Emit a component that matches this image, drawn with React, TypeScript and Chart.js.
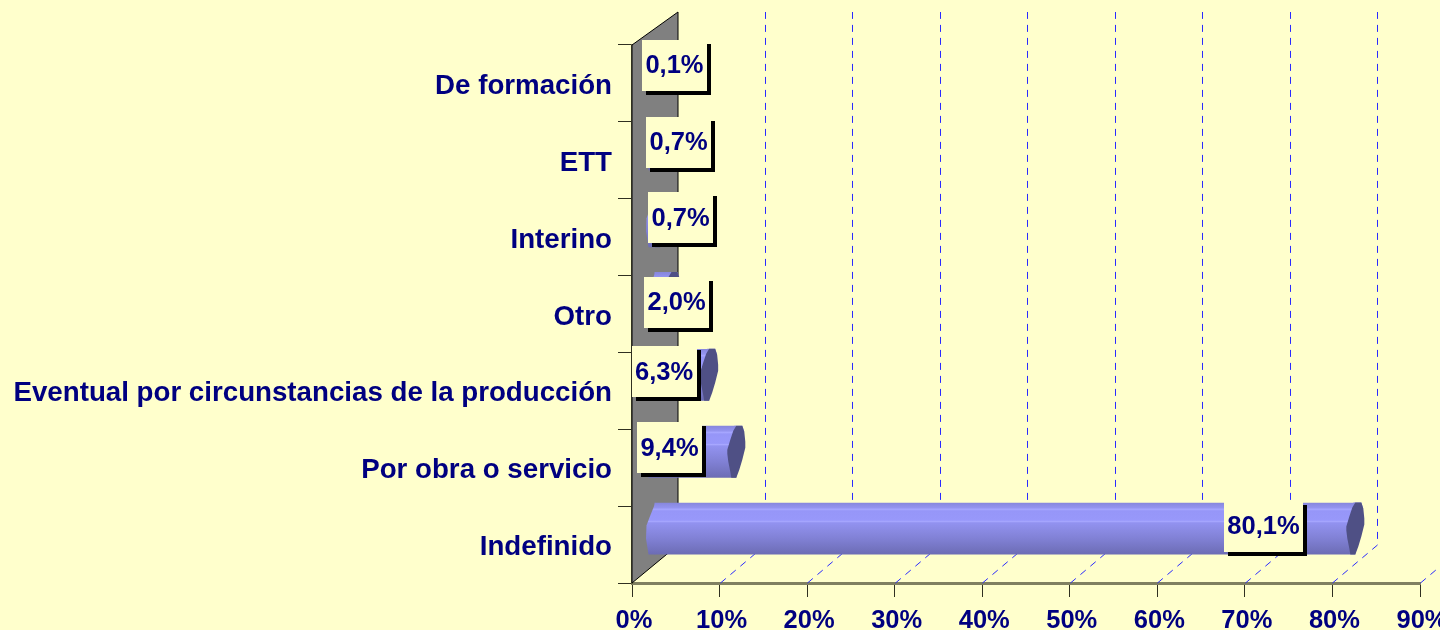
import React, { useEffect, useRef } from "react";
import { Chart, registerables } from "chart.js";

Chart.register(...registerables);

const categories = [
  "De formación",
  "ETT",
  "Interino",
  "Otro",
  "Eventual por circunstancias de la producción",
  "Por obra o servicio",
  "Indefinido",
];
const shares = [0.1, 0.7, 0.7, 2.0, 6.3, 9.4, 80.1];
const shareLabels = ["0,1%", "0,7%", "0,7%", "2,0%", "6,3%", "9,4%", "80,1%"];
const labelShiftX = [19.6, 18.4, 20.4, 5, -45, -66.8, -91.8];
const labelShiftY = [-2, -2, -3.5, 4, -3, -4, -2.5];

const BG = "#FFFFCC";
const NAVY = "#000080";
const FONT = "'Liberation Sans', Arial, sans-serif";
const DEPTH_X = 46;
const DEPTH_Y = 38;
const BAR_X = 22;
const BAR_Y = -16;

const bandStops: [number, string][] = [
  [0, "#8686dc"],
  [0.1, "#9494f0"],
  [0.13, "#a6a6ff"],
  [0.16, "#9696f8"],
  [0.34, "#9898fa"],
  [0.36, "#a8a8ff"],
  [0.39, "#9292f0"],
  [0.5, "#8c8ce6"],
  [0.7, "#8080d4"],
  [0.85, "#7676c4"],
  [1, "#6c6cb4"],
];

const rightCap = [
  [0, -26], [6, -26], [8, -20], [9, -10], [9, -4], [6, 8], [3, 18], [0, 26],
  [-5, 26], [-6, 20], [-8, 10], [-9, 2], [-9, -2], [-6, -12], [-3, -21],
];
const leftCap = [[1, -26], [-5, -11], [-8, -3], [-8.5, 10], [-6, 26], [1, 26]];
const topFill = [[-2, -26], [6, -26], [8, -20], [0, -20]];

function bandGradient(ctx: CanvasRenderingContext2D, cy: number, half: number) {
  const g = ctx.createLinearGradient(0, cy - half, 0, cy + half);
  bandStops.forEach(([s, c]) => g.addColorStop(s, c));
  return g;
}

function poly(ctx: CanvasRenderingContext2D, pts: number[][], x: number, y: number, fill: any) {
  ctx.beginPath();
  pts.forEach(([a, b], i) => (i ? ctx.lineTo(x + a, y + b) : ctx.moveTo(x + a, y + b)));
  ctx.closePath();
  ctx.fillStyle = fill;
  ctx.fill();
}

const scene3d = {
  id: "scene3d",
  beforeDraw(chart: any) {
    const { ctx, width, height } = chart;
    ctx.save();
    ctx.fillStyle = BG;
    ctx.fillRect(0, 0, width, height);
    ctx.restore();
  },
  beforeDatasetsDraw(chart: any) {
    const { ctx, chartArea: a, scales } = chart;
    ctx.save();
    // side wall
    ctx.beginPath();
    ctx.moveTo(a.left, a.bottom);
    ctx.lineTo(a.left, a.top);
    ctx.lineTo(a.left + DEPTH_X, a.top - DEPTH_Y + 5);
    ctx.lineTo(a.left + DEPTH_X, a.bottom - DEPTH_Y);
    ctx.closePath();
    ctx.fillStyle = "#808080";
    ctx.fill();
    ctx.strokeStyle = "#000000";
    ctx.lineWidth = 1;
    ctx.stroke();
    // floor and back grid
    ctx.strokeStyle = "#2a2aff";
    ctx.setLineDash([7, 6]);
    scales.x.ticks.forEach((t: any) => {
      if (t.value === 0) return;
      const x = Math.round(scales.x.getPixelForValue(t.value)) + 0.5;
      ctx.beginPath();
      ctx.moveTo(x, a.bottom);
      ctx.lineTo(x + DEPTH_X - 1, a.bottom - DEPTH_Y);
      ctx.lineTo(x + DEPTH_X - 1, a.top - DEPTH_Y + 5);
      ctx.stroke();
    });
    ctx.restore();
  },
  beforeDatasetDraw(chart: any) {
    const { ctx } = chart;
    ctx.save();
    ctx.translate(BAR_X, BAR_Y);
  },
  afterDatasetDraw(chart: any) {
    const { ctx } = chart;
    const meta = chart.getDatasetMeta(0);
    meta.data.forEach((el: any) => {
      const g = bandGradient(ctx, el.y, 26);
      poly(ctx, leftCap, el.base, el.y, g);
      poly(ctx, topFill, el.x, el.y, g);
      poly(ctx, rightCap, el.x, el.y, "#4f5085");
    });
    ctx.restore();
  },
  afterDatasetsDraw(chart: any) {
    const { ctx } = chart;
    const meta = chart.getDatasetMeta(0);
    ctx.save();
    ctx.font = `bold 25.5px ${FONT}`;
    ctx.textAlign = "center";
    ctx.textBaseline = "middle";
    meta.data.forEach((el: any, i: number) => {
      const cx = el.x + BAR_X + labelShiftX[i];
      const cy = el.y + BAR_Y + labelShiftY[i];
      const w = Math.round(ctx.measureText(shareLabels[i]).width + 7);
      const h = 51;
      const left = Math.round(cx - w / 2);
      const top = Math.round(cy - h / 2);
      ctx.fillStyle = "#000000";
      ctx.fillRect(left + 4, top + 4, w, h);
      ctx.fillStyle = BG;
      ctx.fillRect(left, top, w, h);
      ctx.fillStyle = NAVY;
      ctx.fillText(shareLabels[i], cx, cy + 1);
    });
    ctx.restore();
  },
};

export default function App() {
  const ref = useRef<HTMLCanvasElement>(null);
  useEffect(() => {
    if (!ref.current) return;
    const chart = new Chart(ref.current, {
      type: "bar",
      data: {
        labels: categories,
        datasets: [
          {
            data: shares,
            categoryPercentage: 0.675,
            barPercentage: 1,
            borderWidth: 0,
            backgroundColor: (c: any) => {
              const y = c.chart.scales.y;
              const cy = y ? y.getPixelForValue(c.dataIndex) : NaN;
              return Number.isFinite(cy) ? bandGradient(c.chart.ctx, cy, 26) : "#8c8ce6";
            },
          },
        ],
      },
      options: {
        indexAxis: "y",
        responsive: false,
        animation: false,
        layout: { padding: { top: 45, right: 20, left: 0, bottom: 0 } },
        plugins: { legend: { display: false }, tooltip: { enabled: false }, title: { display: false } },
        scales: {
          x: {
            min: 0,
            max: 90,
            afterFit: (s: any) => {
              s.height = 47;
              s.paddingLeft = 0;
              s.paddingRight = 0;
            },
            border: { color: "#808060", width: 3 },
            grid: { drawOnChartArea: false, tickLength: 14, color: "#303020", lineWidth: 1 },
            ticks: {
              stepSize: 10,
              maxRotation: 0,
              autoSkip: false,
              padding: 9,
              labelOffset: 2,
              color: NAVY,
              font: { family: FONT, weight: "bold", size: 25.5 },
              callback: (v: any) => `${v}%`,
            },
          },
          y: {
            afterFit: (s: any) => {
              s.width = 632;
              s.paddingTop = 0;
              s.paddingBottom = 0;
            },
            border: { color: "#606040", width: 2 },
            grid: { drawOnChartArea: false, tickLength: 14, color: "#303020", lineWidth: 1 },
            ticks: {
              padding: 6,
              labelOffset: 3,
              autoSkip: false,
              color: NAVY,
              font: { family: FONT, weight: "bold", size: 27.7 },
            },
          },
        },
      },
      plugins: [scene3d],
    } as any);
    return () => chart.destroy();
  }, []);
  return (
    <div style={{ position: "absolute", left: 0, top: 0, width: 1440, height: 630, background: BG, overflow: "hidden" }}>
      <canvas ref={ref} width={1440} height={630} style={{ display: "block" }} />
    </div>
  );
}
